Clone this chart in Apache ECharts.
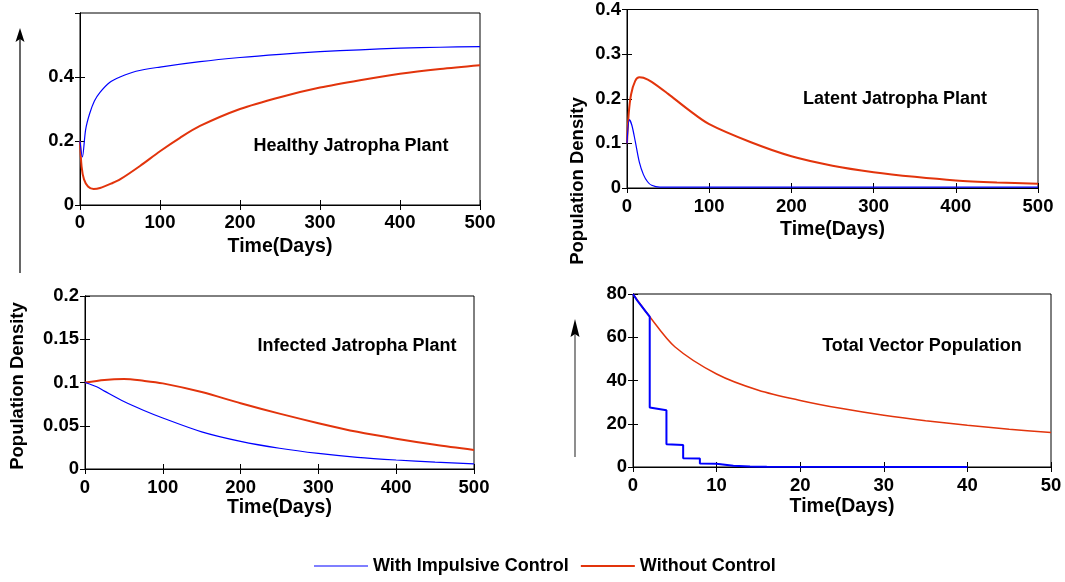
<!DOCTYPE html>
<html>
<head>
<meta charset="utf-8">
<script src="https://cdn.jsdelivr.net/npm/echarts@6/dist/echarts.min.js"></script>
<style>
  html, body { margin: 0; padding: 0; background: #fff; }
  #chart { width: 1065px; height: 582px; }
</style>
</head>
<body>
<div id="chart"></div>
<script>
// [day, density]
const healthyImpulsive = [[0, 0.2], [3, 0.15], [7, 0.235], [12, 0.285], [18, 0.325], [25, 0.352], [37, 0.383], [50, 0.4], [70, 0.418], [100, 0.431], [150, 0.448], [200, 0.461], [250, 0.471], [300, 0.479], [350, 0.485], [400, 0.49], [450, 0.493], [500, 0.495]];
const healthyNoControl = [[0, 0.2], [2, 0.12], [5, 0.08], [10, 0.058], [17, 0.05], [25, 0.053], [40, 0.068], [50, 0.08], [75, 0.122], [100, 0.168], [125, 0.21], [150, 0.247], [200, 0.3], [250, 0.337], [300, 0.367], [350, 0.39], [400, 0.41], [450, 0.425], [500, 0.437]];

const latentImpulsive = [[0, 0.1], [3, 0.153], [6, 0.14], [10, 0.105], [15, 0.058], [20, 0.03], [25, 0.014], [30, 0.006], [40, 0.002], [500, 0.002]];
const latentNoControl = [[0, 0.1], [2, 0.165], [5, 0.21], [10, 0.24], [15, 0.248], [20, 0.247], [30, 0.238], [50, 0.211], [75, 0.175], [100, 0.143], [150, 0.103], [200, 0.071], [250, 0.05], [300, 0.0355], [350, 0.025], [400, 0.017], [450, 0.0125], [500, 0.0095]];

const infectedImpulsive = [[0, 0.1], [15, 0.095], [25, 0.09], [50, 0.078], [75, 0.068], [100, 0.059], [150, 0.043], [200, 0.032], [250, 0.024], [300, 0.018], [350, 0.0135], [400, 0.0104], [450, 0.008], [500, 0.006]];
const infectedNoControl = [[0, 0.1], [25, 0.103], [50, 0.104], [75, 0.102], [100, 0.099], [150, 0.089], [200, 0.076], [250, 0.064], [300, 0.053], [350, 0.043], [400, 0.035], [450, 0.028], [500, 0.022]];

const vectorImpulsive = [[0, 80], [0.5, 77], [1, 74.5], [1.5, 72], [2, 69.5], [2, 27.5], [4, 26.2], [4, 10.5], [6, 10.2], [6, 4.1], [8, 3.9], [8, 1.6], [10, 1.5], [10, 0.6], [12, 0.55], [12, 0.2], [14, 0.2], [14, 0.08], [16, 0.07], [16, 0.03], [40, 0.02]];
const vectorNoControl = [[0, 80], [2, 69.5], [5, 55.6], [10, 43], [15, 35.5], [20, 30.8], [25, 27], [30, 23.9], [35, 21.4], [40, 19.3], [45, 17.5], [50, 15.9]];

// tick values per panel
const dayTicks = [0, 100, 200, 300, 400, 500];
const vectorDayTicks = [0, 10, 20, 30, 40, 50];
const healthyTicks = [0, 0.2, 0.4, 0.6];
const latentTicks = [0, 0.1, 0.2, 0.3, 0.4];
const infectedTicks = [0, 0.05, 0.1, 0.15, 0.2];
const vectorTicks = [0, 20, 40, 60, 80];

const panelTitles = ["Healthy Jatropha Plant", "Latent Jatropha Plant", "Infected Jatropha Plant", "Total Vector Population"];

const BLUE = "#0000ff";
const RED = "#e2340c";
const FONT = "'Liberation Sans', Arial, sans-serif";

const panels = [
  { grid: { left: 80, top: 13, width: 400, height: 192 }, x: dayTicks, y: healthyTicks, hideMax: true, labelGap: 8, nameGap: 32,
    series: [healthyImpulsive, healthyNoControl], widths: [1.2, 2], title: [351, 146] },
  { grid: { left: 627, top: 8, width: 411, height: 180 }, x: dayTicks, y: latentTicks, labelGap: 9.5, nameGap: 32,
    series: [latentImpulsive, latentNoControl], widths: [1.2, 2], title: [895, 99] },
  { grid: { left: 85, top: 296, width: 389, height: 173 }, x: dayTicks, y: infectedTicks, labelGap: 9, nameGap: 26,
    series: [infectedImpulsive, infectedNoControl], widths: [1.2, 2], title: [357, 346] },
  { grid: { left: 633, top: 294, width: 418, height: 173 }, x: vectorDayTicks, y: vectorTicks, labelGap: 9.5, nameGap: 30,
    series: [vectorImpulsive, vectorNoControl], widths: [2, 1.5], title: [922, 346], steps: true },
];

function fmt(v) {
  return String(v);
}

const grids = [];
const xAxes = [];
const yAxes = [];
const series = [];
const graphics = [];

panels.forEach((p, i) => {
  grids.push(Object.assign({ show: true, borderColor: "#000", borderWidth: 1, backgroundColor: "transparent" }, p.grid));
  const xr = { min: p.x[0], max: p.x[p.x.length - 1], interval: p.x[1] - p.x[0] };
  const yr = { min: p.y[0], max: p.y[p.y.length - 1], interval: p.y[1] - p.y[0] };
  const tick = { show: true, inside: true, length: 5, lineStyle: { color: "#000", width: 1 } };
  const line = { show: true, lineStyle: { color: "#000", width: 1 } };
  xAxes.push(Object.assign({
    type: "value", gridIndex: i, position: "bottom", splitLine: { show: false },
    axisLine: line, axisTick: tick,
    axisLabel: { color: "#000", fontFamily: FONT, fontWeight: "bold", fontSize: 18.5, margin: p.labelGap, formatter: fmt },
    name: "Time(Days)", nameLocation: "middle", nameGap: p.nameGap,
    nameTextStyle: { color: "#000", fontFamily: FONT, fontWeight: "bold", fontSize: 19.5 },
  }, xr));
  xAxes.push(Object.assign({
    type: "value", gridIndex: i, position: "top", splitLine: { show: false },
    axisLine: line, axisTick: tick, axisLabel: { show: false },
  }, xr));
  yAxes.push(Object.assign({
    type: "value", gridIndex: i, position: "left", splitLine: { show: false },
    axisLine: line, axisTick: tick,
    axisLabel: { color: "#000", fontFamily: FONT, fontWeight: "bold", fontSize: 18.5, margin: 6, formatter: fmt, showMaxLabel: !p.hideMax },
  }, yr));
  yAxes.push(Object.assign({
    type: "value", gridIndex: i, position: "right", splitLine: { show: false },
    axisLine: line, axisTick: tick, axisLabel: { show: false },
  }, yr));

  [["With Impulsive Control", BLUE], ["Without Control", RED]].forEach(([name, color], k) => {
    const stepped = p.steps && k === 0;
    series.push({
      name, type: "line", xAxisIndex: 2 * i, yAxisIndex: 2 * i,
      data: p.series[k], symbol: "none", smooth: stepped ? false : 0.3,
      lineStyle: { color, width: p.widths[k] }, itemStyle: { color },
      z: k === 0 ? 3 : 2, animation: false,
    });
  });

  graphics.push({
    type: "text", x: p.title[0], y: p.title[1],
    style: { text: panelTitles[i], fill: "#000", font: "bold 18px " + FONT, align: "center", verticalAlign: "middle" },
  });
});

// y-axis captions and arrows (annotations)
graphics.push(
  { type: "text", x: 578, y: 181, rotation: Math.PI / 2,
    style: { text: "Population Density", fill: "#000", font: "bold 18.5px " + FONT, align: "center", verticalAlign: "middle" } },
  { type: "text", x: 18, y: 386, rotation: Math.PI / 2,
    style: { text: "Population Density", fill: "#000", font: "bold 18.5px " + FONT, align: "center", verticalAlign: "middle" } },
  { type: "line", shape: { x1: 20, y1: 36, x2: 20, y2: 273 }, style: { stroke: "#000", lineWidth: 1.2 } },
  { type: "polygon", shape: { points: [[20, 28], [24.5, 42], [20, 39], [15.5, 42]] }, style: { fill: "#000" } },
  { type: "line", shape: { x1: 575, y1: 330, x2: 575, y2: 457 }, style: { stroke: "#444", lineWidth: 1.2 } },
  { type: "polygon", shape: { points: [[575, 319], [579.5, 337], [575, 334], [570.5, 337]] }, style: { fill: "#000" } }
);

const chart = echarts.init(document.getElementById("chart"));
chart.setOption({
  backgroundColor: "#fff",
  animation: false,
  grid: grids,
  xAxis: xAxes,
  yAxis: yAxes,
  legend: {
    left: 314, top: 557, padding: 0, itemWidth: 54, itemHeight: 12, itemGap: 12,
    data: [
      { name: "With Impulsive Control", icon: "path://M0,5.5 L54,5.5 L54,6.5 L0,6.5 Z", itemStyle: { color: BLUE } },
      { name: "Without Control", icon: "path://M0,5 L54,5 L54,7 L0,7 Z", itemStyle: { color: RED } },
    ],
    textStyle: { color: "#000", fontFamily: FONT, fontWeight: "bold", fontSize: 18 },
  },
  series,
  graphic: graphics,
});
</script>
</body>
</html>
